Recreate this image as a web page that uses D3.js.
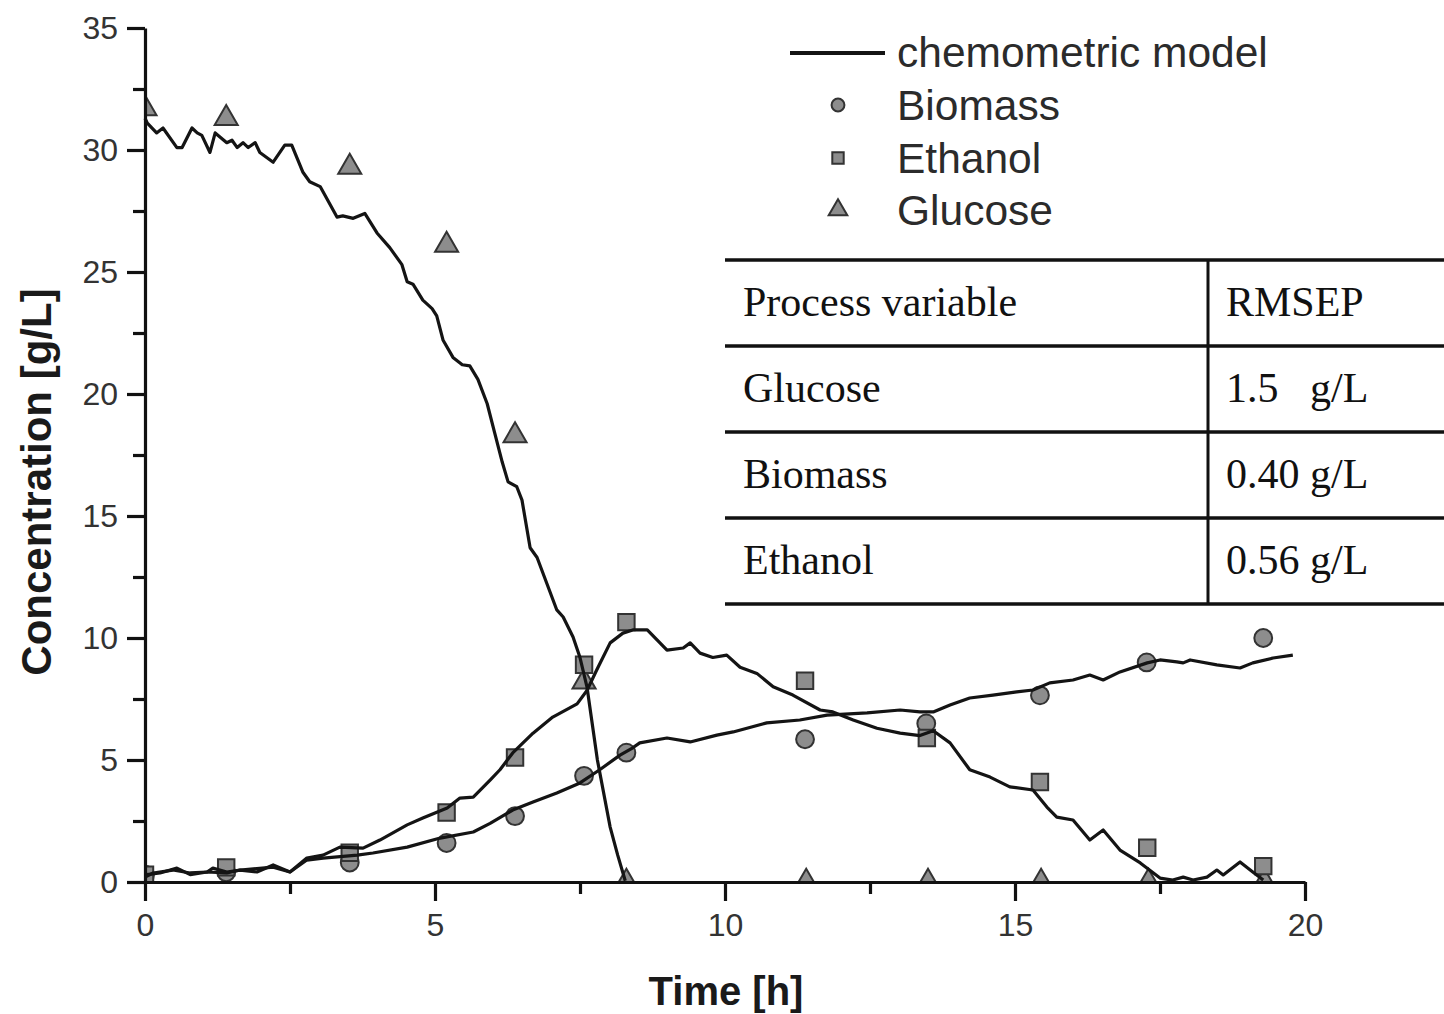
<!DOCTYPE html>
<html>
<head>
<meta charset="utf-8">
<script src="https://cdn.jsdelivr.net/npm/d3@7"></script>
<style>
  html, body { margin: 0; padding: 0; background: #fff; }
  svg { display: block; }
</style>
</head>
<body>
<svg id="chart" width="1444" height="1014"></svg>
<script>
// Fermentation run: chemometric model predictions (lines) and offline reference samples (markers)

const xTicks = [0, 5, 10, 15, 20];
const yTicks = [0, 5, 10, 15, 20, 25, 30, 35];
const xMinorTicks = [2.5, 7.5, 12.5, 17.5];
const yMinorTicks = [2.5, 7.5, 12.5, 17.5, 22.5, 27.5, 32.5];

// Reference samples [time h, concentration g/L]
const biomassSamples = [[0, 0.3], [1.4, 0.4], [3.53, 0.8], [5.2, 1.6], [6.38, 2.7], [7.57, 4.35], [8.3, 5.3],
  [11.38, 5.85], [13.47, 6.5], [15.43, 7.65], [17.27, 9.0], [19.28, 10.0]];
const ethanolSamples = [[0, 0.3], [1.4, 0.6], [3.53, 1.2], [5.2, 2.85], [6.38, 5.1], [7.57, 8.9], [8.3, 10.65],
  [11.38, 8.25], [13.48, 5.9], [15.43, 4.1], [17.28, 1.4], [19.28, 0.65]];
const glucoseSamples = [[0, 31.7], [1.4, 31.3], [3.53, 29.3], [5.2, 26.1], [6.38, 18.3], [7.57, 8.2], [8.3, 0],
  [11.4, 0], [13.5, 0], [15.45, 0], [17.3, 0], [19.3, 0]];

// Chemometric model predictions [time h, concentration g/L]
const glucoseModel = [[0, 31.3], [0.04, 31.1], [0.2, 30.7], [0.31, 30.9], [0.55, 30.1], [0.64, 30.1], [0.81, 30.9],
  [0.9, 30.7], [0.98, 30.6], [1.12, 29.9], [1.21, 30.7], [1.41, 30.3], [1.5, 30.4], [1.59, 30.1], [1.69, 30.3],
  [1.78, 30.1], [1.9, 30.3], [1.98, 29.9], [2.21, 29.5], [2.41, 30.2], [2.53, 30.2], [2.72, 29.1], [2.84, 28.7],
  [3.02, 28.5], [3.31, 27.25], [3.41, 27.3], [3.59, 27.2], [3.79, 27.4], [4.0, 26.6], [4.22, 26.0], [4.43, 25.3],
  [4.52, 24.6], [4.62, 24.5], [4.79, 23.85], [4.95, 23.5], [5.03, 23.2], [5.14, 22.2], [5.31, 21.5], [5.47, 21.2],
  [5.6, 21.15], [5.74, 20.6], [5.9, 19.6], [6.03, 18.4], [6.16, 17.2], [6.26, 16.4], [6.41, 16.2], [6.5, 15.65],
  [6.64, 13.7], [6.76, 13.3], [7.1, 11.15], [7.21, 10.86], [7.38, 10.04], [7.5, 9.2], [7.62, 8.0], [7.8, 5.0],
  [8.02, 2.25], [8.15, 1.1], [8.28, 0.05]];
const ethanolModel = [[0, 0.37], [0.03, 0.3], [0.26, 0.37], [0.55, 0.57], [0.78, 0.3], [1.07, 0.41], [1.17, 0.57],
  [1.41, 0.41], [1.64, 0.49], [1.93, 0.41], [2.21, 0.7], [2.5, 0.41], [2.79, 0.98], [3.07, 1.1], [3.36, 1.43],
  [3.76, 1.39], [4.05, 1.72], [4.52, 2.34], [4.79, 2.62], [5.21, 3.03], [5.43, 3.44], [5.66, 3.48], [5.95, 4.18],
  [6.12, 4.6], [6.34, 5.29], [6.69, 6.1], [7.03, 6.76], [7.45, 7.3], [7.62, 7.85], [7.79, 8.7], [8.02, 9.8],
  [8.24, 10.2], [8.41, 10.33], [8.66, 10.33], [9.0, 9.5], [9.28, 9.59], [9.4, 9.8], [9.57, 9.38], [9.79, 9.2],
  [10.03, 9.3], [10.26, 8.8], [10.55, 8.55], [10.83, 8.0], [11.17, 7.66], [11.64, 7.05], [11.86, 6.97],
  [12.21, 6.64], [12.62, 6.3], [13.02, 6.1], [13.36, 6.0], [13.59, 6.2], [13.88, 5.7], [14.22, 4.6], [14.57, 4.3],
  [14.91, 3.9], [15.31, 3.77], [15.55, 3.07], [15.72, 2.66], [16.0, 2.54], [16.29, 1.72], [16.52, 2.13],
  [16.81, 1.31], [17.16, 0.78], [17.5, 0.16], [17.72, 0.08], [17.9, 0.2], [18.07, 0.08], [18.31, 0.2],
  [18.48, 0.49], [18.59, 0.29], [18.88, 0.82], [19.1, 0.41], [19.28, 0.08]];
const biomassModel = [[0, 0.2], [0.14, 0.37], [0.48, 0.49], [0.78, 0.37], [1.07, 0.41], [1.41, 0.37], [1.64, 0.49],
  [2.21, 0.61], [2.5, 0.41], [2.79, 0.9], [3.07, 0.98], [3.66, 1.1], [3.93, 1.19], [4.52, 1.43], [5.09, 1.8],
  [5.66, 2.05], [5.95, 2.4], [6.34, 2.95], [6.69, 3.28], [7.1, 3.65], [7.5, 4.06], [7.84, 4.6], [8.19, 5.2],
  [8.41, 5.5], [8.53, 5.7], [9.0, 5.9], [9.4, 5.74], [9.86, 6.02], [10.14, 6.15], [10.72, 6.52], [11.29, 6.64],
  [11.76, 6.84], [12.45, 6.93], [13.02, 7.05], [13.36, 6.97], [13.59, 6.97], [13.88, 7.25], [14.22, 7.54],
  [14.62, 7.66], [15.03, 7.79], [15.31, 7.87], [15.6, 8.16], [16.0, 8.28], [16.29, 8.48], [16.52, 8.28],
  [16.81, 8.61], [17.28, 8.98], [17.5, 9.1], [17.79, 9.02], [17.9, 8.98], [18.02, 9.1], [18.48, 8.9],
  [18.88, 8.77], [19.1, 8.98], [19.45, 9.18], [19.79, 9.3]];

// Legend entries and RMSEP table
const legendItems = ["chemometric model", "Biomass", "Ethanol", "Glucose"];
const tableHeader = ["Process variable", "RMSEP"];
const tableRows = [["Glucose", "1.5   g/L"], ["Biomass", "0.40 g/L"], ["Ethanol", "0.56 g/L"]];

const svg = d3.select("#chart");
const x = d3.scaleLinear().domain([0, 20]).range([145, 1305]);
const y = d3.scaleLinear().domain([0, 35]).range([882, 28]);

const markerFill = "#8d8d8d";
const markerStroke = "#333";
const sans = "'Liberation Sans', Arial, Helvetica, sans-serif";
const serif = "'Liberation Serif', 'Times New Roman', serif";

// Markers are clipped to the plotting area
svg.append("defs").append("clipPath").attr("id", "plot-clip")
  .append("rect")
  .attr("x", x(0)).attr("y", y(35))
  .attr("width", x(20) - x(0)).attr("height", y(0) - y(35));

const symCircle = d3.symbol().type(d3.symbolCircle).size(250);
const symSquare = d3.symbol().type(d3.symbolSquare).size(270);
const symTriangle = d3.symbol().type(d3.symbolTriangle).size(230);

// Sample markers
const markerLayer = svg.append("g").attr("clip-path", "url(#plot-clip)");
function drawMarkers(data, sym) {
  markerLayer.append("g").selectAll("path").data(data).join("path")
    .attr("transform", d => `translate(${x(d[0])},${y(d[1])})`)
    .attr("d", sym)
    .attr("fill", markerFill).attr("stroke", markerStroke).attr("stroke-width", 2);
}
drawMarkers(glucoseSamples, symTriangle);
drawMarkers(biomassSamples, symCircle);
drawMarkers(ethanolSamples, symSquare);

// Model lines
const line = d3.line().x(d => x(d[0])).y(d => y(d[1]));
[glucoseModel, ethanolModel, biomassModel].forEach(series => {
  svg.append("path").datum(series)
    .attr("d", line)
    .attr("fill", "none").attr("stroke", "#141414").attr("stroke-width", 3.2)
    .attr("stroke-linejoin", "round");
});

// Axes
function styleAxis(g) {
  g.selectAll(".domain").attr("stroke", "#111").attr("stroke-width", 3.2);
  g.selectAll(".tick line").attr("stroke", "#111").attr("stroke-width", 3.2);
  g.selectAll(".tick text").attr("fill", "#333").style("font-family", sans).style("font-size", "32px");
}

const xAxis = svg.append("g").attr("transform", `translate(0,${y(0)})`)
  .call(d3.axisBottom(x).tickValues(xTicks).tickSize(19).tickSizeOuter(0).tickPadding(12).tickFormat(d3.format("d")));
styleAxis(xAxis);
const xMinor = svg.append("g").attr("transform", `translate(0,${y(0)})`)
  .call(d3.axisBottom(x).tickValues(xMinorTicks).tickSize(12).tickFormat(""));
xMinor.select(".domain").remove();
styleAxis(xMinor);

const yAxis = svg.append("g").attr("transform", `translate(${x(0)},0)`)
  .call(d3.axisLeft(y).tickValues(yTicks).tickSize(18).tickSizeOuter(0).tickPadding(9).tickFormat(d3.format("d")));
styleAxis(yAxis);
const yMinor = svg.append("g").attr("transform", `translate(${x(0)},0)`)
  .call(d3.axisLeft(y).tickValues(yMinorTicks).tickSize(12).tickFormat(""));
yMinor.select(".domain").remove();
styleAxis(yMinor);

// Axis titles
svg.append("text")
  .attr("transform", `translate(51,482) rotate(-90)`)
  .attr("text-anchor", "middle")
  .style("font-family", sans).style("font-weight", "bold").style("font-size", "42px")
  .attr("fill", "#1a1a1a")
  .text("Concentration [g/L]");
svg.append("text")
  .attr("x", 726).attr("y", 1005)
  .attr("text-anchor", "middle")
  .style("font-family", sans).style("font-weight", "bold").style("font-size", "40px")
  .attr("fill", "#1a1a1a")
  .text("Time [h]");

// Legend
const legend = svg.append("g");
const legendBase = [67, 120, 173, 225];
const legendMid = [53, 105, 158, 210];
legend.append("line").attr("x1", 790).attr("x2", 885).attr("y1", legendMid[0]).attr("y2", legendMid[0])
  .attr("stroke", "#141414").attr("stroke-width", 4);
[symCircle.size(130), symSquare.size(130), symTriangle.size(150)].forEach((s, i) => {
  legend.append("path")
    .attr("transform", `translate(838,${legendMid[i + 1]})`)
    .attr("d", s)
    .attr("fill", markerFill).attr("stroke", markerStroke).attr("stroke-width", 2);
});
legend.selectAll("text").data(legendItems).join("text")
  .attr("x", 897).attr("y", (d, i) => legendBase[i])
  .style("font-family", sans).style("font-size", "42.5px")
  .attr("fill", "#2b2b2b")
  .text(d => d);

// RMSEP table
const table = svg.append("g");
const rowLines = [260, 346, 432, 518, 604];
table.selectAll("line.h").data(rowLines).join("line").attr("class", "h")
  .attr("x1", 725).attr("x2", 1444).attr("y1", d => d).attr("y2", d => d)
  .attr("stroke", "#111").attr("stroke-width", 3.5);
table.append("line").attr("x1", 1208).attr("x2", 1208).attr("y1", rowLines[0]).attr("y2", rowLines[4])
  .attr("stroke", "#111").attr("stroke-width", 3);
const allRows = [tableHeader].concat(tableRows);
allRows.forEach((r, i) => {
  const by = rowLines[i] + 56;
  table.append("text").attr("x", 743).attr("y", by).text(r[0]);
  table.append("text").attr("x", 1226).attr("y", by).attr("xml:space", "preserve").style("white-space", "pre").text(r[1]);
});
table.selectAll("text").style("font-family", serif).style("font-size", "42px").attr("fill", "#111");
</script>
</body>
</html>
